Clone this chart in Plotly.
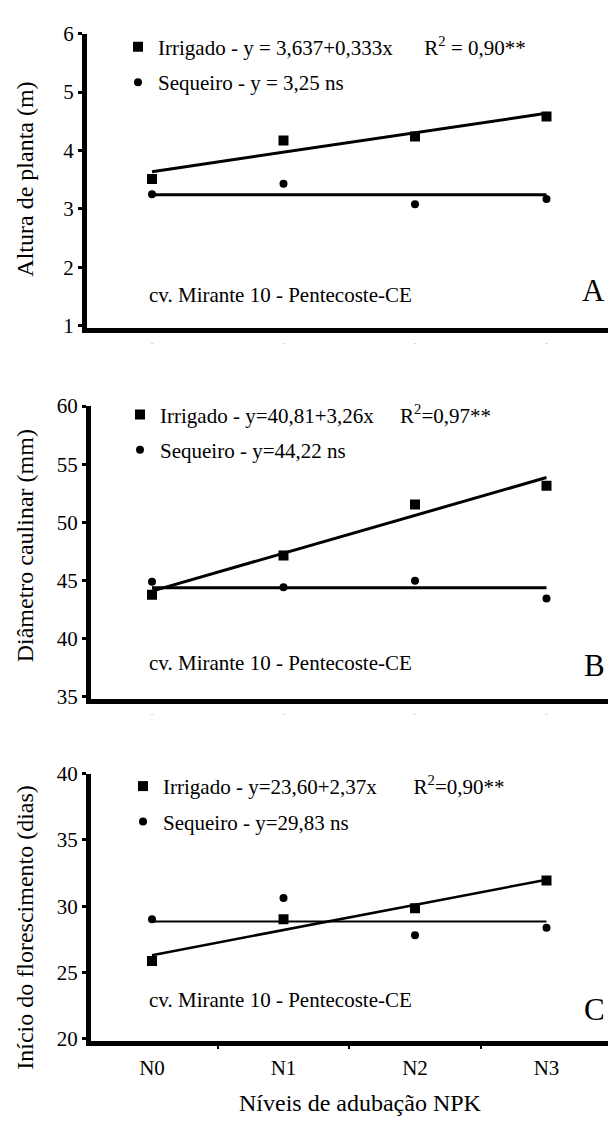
import plotly.graph_objects as go

W, H = 608, 1124
FONT = "Liberation Serif, Times New Roman, Times, serif"

# ---------------- data ----------------
categories = ["N0", "N1", "N2", "N3"]
xpos = [0, 1, 2, 3]

# Panel A - Altura de planta (m)
a_irrigado = [3.51, 4.17, 4.24, 4.58]
a_sequeiro = [3.25, 3.43, 3.08, 3.17]
a_irr_fit = [3.637, 4.636]     # y = 3,637 + 0,333x at N0 and N3
a_seq_fit = [3.24, 3.24]

# Panel B - Diâmetro caulinar (mm)
b_irrigado = [43.76, 47.13, 51.53, 53.15]
b_sequeiro = [44.87, 44.40, 44.96, 43.43]
b_irr_fit = [44.07, 53.85]
b_seq_fit = [44.35, 44.35]

# Panel C - Início do florescimento (dias)
c_irrigado = [25.85, 29.02, 29.85, 31.93]
c_sequeiro = [29.02, 30.61, 27.80, 28.37]
c_irr_fit = [26.30, 32.00]
c_seq_fit = [28.85, 28.85]

fit_x = [0, 3]

y_titles = ["Altura de planta (m)", "Diâmetro caulinar (mm)", "Início do florescimento (dias)"]
x_title = "Níveis de adubação NPK"
site_text = "cv. Mirante 10 - Pentecoste-CE"
panel_letters = ["A", "B", "C"]
nb = "\u00a0"
irr_names = [
    "Irrigado - y = 3,637+0,333x" + nb * 6 + "R<sup>2</sup> = 0,90**",
    "Irrigado - y=40,81+3,26x" + nb * 5 + "R<sup>2</sup>=0,97**",
    "Irrigado - y=23,60+2,37x" + nb * 7 + "R<sup>2</sup>=0,90**",
]
seq_names = [
    "Sequeiro - y = 3,25 ns",
    "Sequeiro - y=44,22 ns",
    "Sequeiro - y=29,83 ns",
]

# ---------------- layout helpers (page pixels -> paper) ----------------
def px(x):
    return x / W

def py(y):
    return 1 - y / H

N0_PX, STEP_PX = 152.0, 131.5
LW = 5  # axis line width

panels = [
    # top/bottom: pixel rows of the top and bottom tick values
    dict(irr=a_irrigado, seq=a_sequeiro, irrfit=a_irr_fit, seqfit=a_seq_fit,
         top=22, bottom=325, rng=[1, 6], dtick=1, lw=3, axis_x=84.5,
         leg_top=15, leg_left=118, title_y=171,
         site_y=1.52, letter_y=1.6),
    dict(irr=b_irrigado, seq=b_sequeiro, irrfit=b_irr_fit, seqfit=b_seq_fit,
         top=402, bottom=703, rng=[35, 60], dtick=5, lw=3, axis_x=88.5,
         leg_top=390, leg_left=120, title_y=545,
         site_y=37.9, letter_y=37.7),
    dict(irr=c_irrigado, seq=c_sequeiro, irrfit=c_irr_fit, seqfit=c_seq_fit,
         top=777, bottom=1052, rng=[20, 40], dtick=5, lw=2.5, axis_x=88.5,
         leg_top=769, leg_left=123, title_y=934,
         site_y=22.9, letter_y=22.2),
]

fig = go.Figure()
annotations = []
layout = dict(
    width=W, height=H,
    margin=dict(l=0, r=0, t=0, b=0),
    paper_bgcolor="white", plot_bgcolor="white",
    font=dict(family=FONT, size=21, color="black"),
)

for i, p in enumerate(panels):
    n = "" if i == 0 else str(i + 1)
    xa, ya = "x" + n, "y" + n
    leg = "legend" + n
    fig.add_trace(go.Scatter(x=fit_x, y=p["irrfit"], mode="lines", xaxis=xa, yaxis=ya,
                             line=dict(color="black", width=p["lw"]), showlegend=False,
                             hoverinfo="skip"))
    fig.add_trace(go.Scatter(x=fit_x, y=p["seqfit"], mode="lines", xaxis=xa, yaxis=ya,
                             line=dict(color="black", width=p["lw"] - (0.5 if i == 2 else 0)),
                             showlegend=False, hoverinfo="skip"))
    fig.add_trace(go.Scatter(x=xpos, y=p["irr"], mode="markers", xaxis=xa, yaxis=ya,
                             marker=dict(symbol="square", size=10, color="black"),
                             name=irr_names[i], legend=leg, legendgroup="irr" + n))
    fig.add_trace(go.Scatter(x=xpos, y=p["seq"], mode="markers", xaxis=xa, yaxis=ya,
                             marker=dict(symbol="circle", size=8, color="black"),
                             name=seq_names[i], legend=leg, legendgroup="seq" + n))

    # x domain: y-axis line is drawn half a line width outside the plot area
    left = p["axis_x"] + LW / 2
    xdom = [px(left), 1.0]
    xrng = [(left - N0_PX) / STEP_PX, (W - N0_PX) / STEP_PX]
    # y domain: bottom tick sits on the x-axis line centre
    ppu = (p["bottom"] - p["top"]) / (p["rng"][1] - p["rng"][0])
    dom_bottom = p["bottom"] - LW / 2
    ydom = [py(dom_bottom), py(p["top"])]
    yrng = [p["rng"][0] - (LW / 2) / ppu, p["rng"][1]]

    last = (i == 2)
    layout["xaxis" + n] = dict(
        domain=xdom, range=xrng, anchor=ya,
        showline=True, linewidth=LW, linecolor="black",
        showgrid=False, zeroline=False,
        tickmode="array", tickvals=xpos,
        ticktext=categories if last else ["-"] * 4,
        tickfont=dict(family=FONT, size=21 if last else 9,
                      color="black" if last else "#c8c8c8"),
        ticks="", ticklabelstandoff=4 if last else 2,
        minor=dict(tickmode="array", tickvals=[0.5, 1.5, 2.5], ticks="outside",
                   ticklen=3, tickwidth=2, tickcolor="black") if last else None,
        fixedrange=True,
    )
    layout["yaxis" + n] = dict(
        domain=ydom, range=yrng, anchor=xa,
        showline=True, linewidth=LW, linecolor="black",
        showgrid=False, zeroline=False,
        tickmode="linear", tick0=p["rng"][0], dtick=p["dtick"],
        ticks="outside", ticklen=4, tickwidth=3, tickcolor="black",
        tickfont=dict(family=FONT, size=21, color="black"),
        fixedrange=True,
    )
    layout[leg] = dict(
        x=px(p["leg_left"]), xanchor="left",
        y=py(p["leg_top"]), yanchor="top",
        bgcolor="rgba(0,0,0,0)", borderwidth=0,
        font=dict(family=FONT, size=21, color="black"),
        tracegroupgap=5, itemwidth=30,
    )
    annotations.append(dict(text=y_titles[i], xref="paper", yref="paper",
                            x=px(25), y=py(p["title_y"]),
                            xanchor="center", yanchor="middle",
                            textangle=-90, showarrow=False,
                            font=dict(family=FONT, size=24, color="black")))
    annotations.append(dict(text=site_text, xref=xa, yref=ya, x=-0.04, y=p["site_y"],
                            xanchor="left", yanchor="middle", showarrow=False,
                            font=dict(family=FONT, size=21, color="black")))
    annotations.append(dict(text=panel_letters[i], xref="paper", yref=ya,
                            x=px(607), y=p["letter_y"], xanchor="right", yanchor="middle",
                            showarrow=False,
                            font=dict(family=FONT, size=31, color="black")))

annotations.append(dict(text=x_title, xref="paper", yref="paper", x=px(360), y=py(1113),
                        xanchor="center", yanchor="middle", showarrow=False,
                        font=dict(family=FONT, size=24, color="black")))
layout["annotations"] = annotations

fig.update_layout(**layout)
fig.write_html(
    "out.html",
    config={"displayModeBar": False, "staticPlot": True},
    post_script="document.body.style.margin='0';document.body.style.overflow='hidden';",
)
